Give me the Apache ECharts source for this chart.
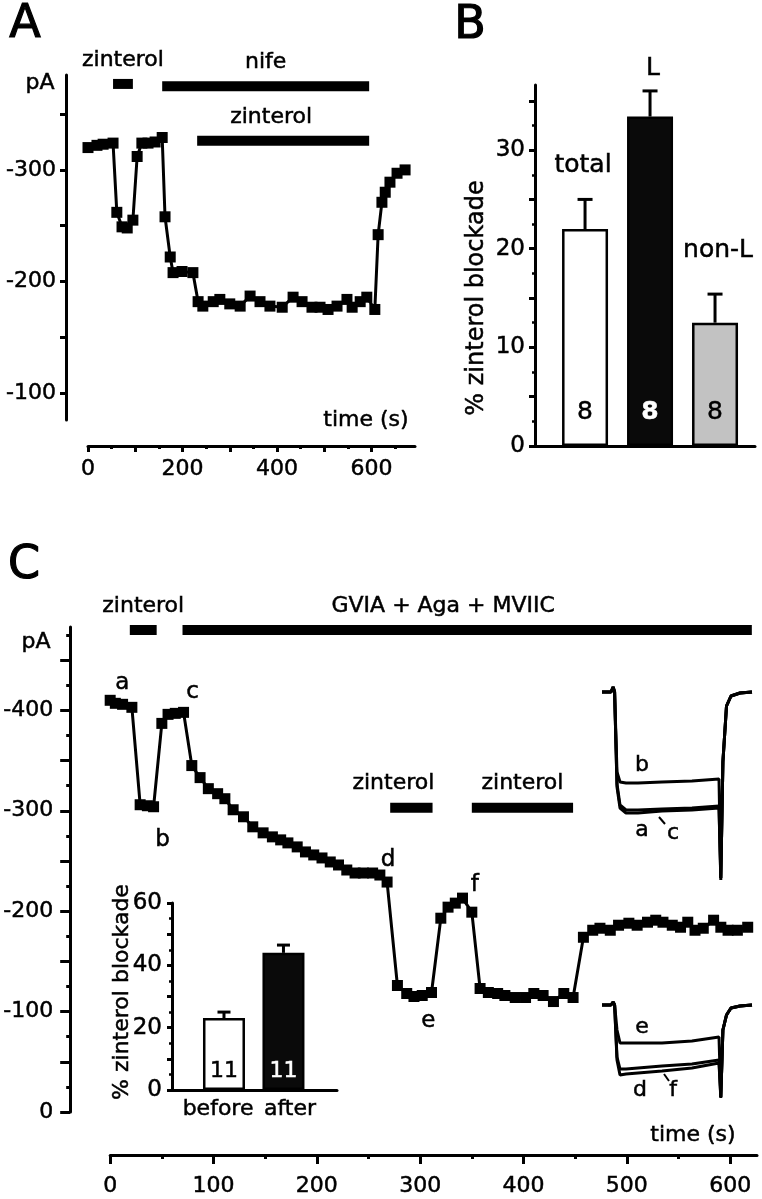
<!DOCTYPE html>
<html><head><meta charset="utf-8">
<script src="https://cdn.jsdelivr.net/npm/echarts@6/dist/echarts.min.js"></script>
<style>html,body{margin:0;padding:0;background:#fff}#c{width:762px;height:1199px}</style>
</head><body><div id="c"></div>
<script>
// ---------------- DATA ----------------
// Panel A: time course (s) and current (pA)
const aTime = [0,19,32,53,61,72,83,95,104,114,127,142,157,163,174,180,199,222,233,243,265,279,300,322,343,364,385,411,434,453,474,491,508,527,548,559,576,590,607,614,622,629,639,654,671];
const aCurrent = [-320,-322,-323,-324,-262,-249,-248,-255,-312,-324,-324,-325,-329,-258,-222,-208,-209,-208,-182,-178,-182,-184,-180,-178,-187,-182,-178,-177,-186,-182,-177,-177,-175,-178,-184,-177,-182,-186,-175,-242,-271,-280,-289,-297,-300];
const aBarLabels = ['zinterol','nife','zinterol'];
const aBarStart = [53,157,231];
const aBarEnd = [95,595,595];
const aXLabels = [0,200,400,600];
const aYLabels = [-300,-200,-100];

// Panel B
const bCategories = ['total','L','non-L'];
const bMeans = [22.0,33.4,12.5];
const bSEM = [3.0,2.6,2.9];
const bN = [8,8,8];
const bYLabels = [0,10,20,30];

// Panel C: time course
const cTime = [0,5,12,21,29,36,42,50,56,63,71,79,87,95,104,111,119,129,138,148,157,165,172,181,189,197,205,213,221,229,237,245,254,261,268,278,287,294,302,311,320,327,334,341,350,358,366,375,382,392,402,410,419,429,439,448,458,467,474,484,492,502,510,520,528,535,544,552,559,566,574,584,591,598,607,617];
const cCurrent = [-410,-407,-406,-403,-306,-305,-304,-387,-396,-397,-398,-345,-333,-322,-317,-312,-301,-294,-284,-278,-274,-271,-268,-264,-259,-256,-253,-249,-246,-241,-238,-238,-238,-236,-229,-126,-118,-115,-116,-119,-193,-204,-208,-213,-199,-123,-119,-118,-116,-114,-114,-118,-116,-110,-118,-114,-174,-181,-183,-181,-186,-188,-186,-189,-191,-189,-186,-184,-189,-181,-183,-191,-184,-181,-181,-184];
const cLetters = ['a','b','c','d','e','f'];
const cLetterIdx = [0,6,10,34,38,44];
const cBarLabels = ['zinterol','GVIA + Aga + MVIIC','zinterol','zinterol'];
const cBarStart = [19,70,271,350];
const cBarEnd = [45,621,312,448];
const cXLabels = [0,100,200,300,400,500,600];
const cYLabels = [-400,-300,-200,-100,0];

// Panel C inset bar chart
const icCategories = ['before','after'];
const icMeans = [23.1,44.0];
const icSEM = [1.9,2.5];
const icN = [11,11];
const icYLabels = [0,20,40,60];

// Panel C current traces (ms, pA relative to holding)
const insetTime = [0,3,3.7,4.2,5,6,8,12,20,30,39,39.6,40.3,41.5,43,46,50];
const traceA = [0,0,5,0,-95,-116,-121,-121,-119,-118,-116,-188,-70,-14,-4,-1,0];
const traceB = [0,0,5,0,-80,-90,-91,-91,-90,-89,-87,-186,-70,-14,-4,-1,0];
const traceC = [0,0,5,0,-92,-113,-118,-118,-117,-116,-114,-186,-70,-14,-4,-1,0];
const traceD = [0,0,3,0,-55,-70,-69,-68,-66,-63,-58,-93,-25,-10,-3,-1,0];
const traceE = [0,0,3,0,-25,-38,-38,-38,-38,-36,-32,-92,-25,-10,-3,-1,0];
const traceF = [0,0,3,0,-52,-64,-64,-63,-61,-59,-55,-92,-25,-10,-3,-1,0];

// ---------------- LAYOUT / STYLE ----------------
const FONT = 'DejaVu Sans';
const BLACK = '#000';
const TICKFS = 22;
const TB = 0.5; // slight text thickening
function ticksFrom(a, b, step) { const r = []; for (let v = a; v <= b + 1e-9; v += step) r.push(Math.round(v * 1000) / 1000); return r; }
function lab(o) { return Object.assign({color: BLACK, fontFamily: FONT, fontSize: TICKFS, textBorderColor: BLACK, textBorderWidth: TB}, o); }
function txt(text, size, extra) { return Object.assign({text: text, align: 'center', verticalAlign: 'middle', fontFamily: FONT, fontSize: size, fill: BLACK, stroke: BLACK, lineWidth: TB}, extra || {}); }
function axis(o) {
  return Object.assign({
    type: 'value', splitLine: {show: false},
    axisLine: {show: true, onZero: false, lineStyle: {color: BLACK, width: 3}},
    axisTick: {show: false},
    axisLabel: {show: false}
  }, o);
}
function tickAxis(o) {
  return Object.assign({type: 'value', splitLine: {show: false}, axisLine: {show: false, onZero: false}, axisLabel: {show: false}}, o);
}

const aBarLevel = [-377, -375, -326];
const aBarDx = [0, 0, -12];
const cBarLevel = [-480, -480, -303, -303];
const cBarDx = [0, -24, -18, 0];

function drugBars(labels, level, dx) {
  return function (params, api) {
    const i = api.value(2);
    const p0 = api.coord([api.value(0), level[i]]);
    const p1 = api.coord([api.value(1), level[i]]);
    return {type: 'group', children: [
      {type: 'rect', shape: {x: p0[0], y: p0[1] - 5, width: p1[0] - p0[0], height: 10}, style: {fill: BLACK}},
      {type: 'text', style: txt(labels[i], 22, {x: (p0[0] + p1[0]) / 2 + dx[i], y: p0[1] - 24})}
    ]};
  };
}

const bNameDy = [-64, -48, -72];
const bNameDx = [-2, 3, 3];
function errorBars(capW, names) {
  return function (params, api) {
    const i = api.value(3);
    const p0 = api.coord([api.value(0), api.value(1)]);
    const p1 = api.coord([api.value(0), api.value(1) + api.value(2)]);
    const ch = [
      {type: 'line', shape: {x1: p0[0], y1: p0[1], x2: p1[0], y2: p1[1]}, style: {stroke: BLACK, lineWidth: 3}},
      {type: 'line', shape: {x1: p1[0] - capW / 2, y1: p1[1], x2: p1[0] + capW / 2, y2: p1[1]}, style: {stroke: BLACK, lineWidth: 3}}
    ];
    if (names) ch.push({type: 'text', style: txt(names[i], 25, {x: p0[0] + bNameDx[i], y: p0[1] + bNameDy[i]})});
    return {type: 'group', children: ch};
  };
}

const bFill = ['#ffffff', '#0a0a0a', '#c2c2c2'];
const bNColor = [BLACK, '#ffffff', BLACK];
const icFill = ['#ffffff', '#0a0a0a'];
const icNColor = [BLACK, '#ffffff'];
const icLabelPos = [0.9, 2.11];

const cLetterOffset = [[12,-17],[9,33],[9,-20],[1,-22],[6,26],[3,-27]];

function traceSeries(x, y, vals, letter, idx, off) {
  return {
    type: 'line', xAxisIndex: x, yAxisIndex: y, symbol: 'none', silent: true,
    lineStyle: {color: BLACK, width: 3}, itemStyle: {color: BLACK},
    data: insetTime.map((t, i) => {
      const d = {value: [t, vals[i]]};
      if (i === idx) { d.symbol = 'circle'; d.symbolSize = 1; d.label = {show: true, position: 'inside', offset: off, formatter: letter, color: BLACK, textBorderColor: BLACK, textBorderWidth: TB, fontFamily: FONT, fontSize: 22}; }
      return d;
    })
  };
}

const option = {
  animation: false,
  backgroundColor: '#fff',
  textStyle: {fontFamily: FONT, color: BLACK},
  grid: [
    {left: 88, top: 75, width: 327, height: 345},   // A
    {left: 535, top: 85, width: 220, height: 361},  // B
    {left: 110, top: 627, width: 647, height: 485}, // C
    {left: 172, top: 903, width: 165, height: 187}, // C inset bars
    {left: 602, top: 680, width: 150, height: 202}, // traces top
    {left: 602, top: 995, width: 150, height: 105}  // traces bottom
  ],
  xAxis: [
    axis({gridIndex: 0, min: 0, max: 692, offset: 26, position: 'bottom',
      axisTick: {show: true, customValues: ticksFrom(0, 600, 100), length: 6, lineStyle: {color: BLACK, width: 3}},
      axisLabel: lab({show: true, customValues: aXLabels, margin: 12})}),
    tickAxis({gridIndex: 0, min: 0, max: 692, offset: 26, position: 'bottom',
      axisTick: {show: true, customValues: ticksFrom(50, 650, 100), length: 3, lineStyle: {color: BLACK, width: 3}}}),
    axis({gridIndex: 1, min: 0.23, max: 3.615, position: 'bottom'}),
    axis({gridIndex: 2, min: 0, max: 626, offset: 43, position: 'bottom',
      axisTick: {show: true, customValues: ticksFrom(0, 600, 100), length: 9, lineStyle: {color: BLACK, width: 3}},
      axisLabel: lab({show: true, customValues: cXLabels, margin: 20})}),
    tickAxis({gridIndex: 2, min: 0, max: 626, offset: 43, position: 'bottom',
      axisTick: {show: true, customValues: ticksFrom(50, 550, 100), length: 4, lineStyle: {color: BLACK, width: 3}}}),
    axis({gridIndex: 3, min: 0.126, max: 2.9, position: 'bottom',
      axisLabel: lab({show: true, customValues: icLabelPos, margin: 8, fontSize: 22, formatter: v => icCategories[Math.round(v) - 1]})}),
    {gridIndex: 4, type: 'value', min: 0, max: 50, show: false},
    {gridIndex: 5, type: 'value', min: 0, max: 50, show: false}
  ],
  yAxis: [
    axis({gridIndex: 0, min: -385, max: -76, inverse: true, offset: 22, position: 'left',
      axisTick: {show: true, customValues: ticksFrom(-350, -100, 50), length: 6, lineStyle: {color: BLACK, width: 3}},
      axisLabel: lab({show: true, customValues: aYLabels, margin: 10})}),
    axis({gridIndex: 1, min: 0, max: 36.6, position: 'left',
      axisTick: {show: true, customValues: ticksFrom(0, 35, 5), length: 6, lineStyle: {color: BLACK, width: 3}},
      axisLabel: lab({show: true, customValues: bYLabels, margin: 10, fontSize: 23})}),
    tickAxis({gridIndex: 1, min: 0, max: 36.6, position: 'left',
      axisTick: {show: true, customValues: ticksFrom(2.5, 32.5, 5), length: 3, lineStyle: {color: BLACK, width: 2.5}}}),
    axis({gridIndex: 2, min: -483, max: 0, inverse: true, offset: 40, position: 'left',
      axisTick: {show: true, customValues: ticksFrom(-450, 0, 50), length: 10, lineStyle: {color: BLACK, width: 3}},
      axisLabel: lab({show: true, customValues: cYLabels, margin: 17})}),
    tickAxis({gridIndex: 2, min: -483, max: 0, inverse: true, offset: 40, position: 'left',
      axisTick: {show: true, customValues: ticksFrom(-475, -25, 50), length: 4, lineStyle: {color: BLACK, width: 3}}}),
    axis({gridIndex: 3, min: 0, max: 60, position: 'left',
      axisTick: {show: true, customValues: ticksFrom(0, 60, 10), length: 5, lineStyle: {color: BLACK, width: 3}},
      axisLabel: lab({show: true, customValues: icYLabels, margin: 10, fontSize: 23})}),
    tickAxis({gridIndex: 3, min: 0, max: 60, position: 'left',
      axisTick: {show: true, customValues: ticksFrom(5, 55, 10), length: 3, lineStyle: {color: BLACK, width: 2.5}}}),
    {gridIndex: 4, type: 'value', min: -190, max: 12, show: false},
    {gridIndex: 5, type: 'value', min: -95, max: 10, show: false}
  ],
  series: [
    {type: 'line', xAxisIndex: 0, yAxisIndex: 0, symbol: 'rect', symbolSize: 11,
      lineStyle: {color: BLACK, width: 3}, itemStyle: {color: BLACK},
      data: aTime.map((t, i) => [t, aCurrent[i]])},
    {type: 'custom', xAxisIndex: 0, yAxisIndex: 0, renderItem: drugBars(aBarLabels, aBarLevel, aBarDx),
      data: aBarStart.map((s, i) => [s, aBarEnd[i], i])},
    {type: 'bar', xAxisIndex: 2, yAxisIndex: 1, barWidth: 46,
      data: bMeans.map((m, i) => ({value: [i + 1, m],
        itemStyle: {color: bFill[i], borderColor: BLACK, borderWidth: 2.5},
        label: {show: true, position: 'insideBottom', distance: 21, formatter: String(bN[i]), color: bNColor[i], textBorderColor: bNColor[i], textBorderWidth: TB, fontWeight: i === 1 ? 'bold' : 'normal', fontFamily: FONT, fontSize: 25}}))},
    {type: 'custom', xAxisIndex: 2, yAxisIndex: 1, renderItem: errorBars(15, bCategories),
      data: bMeans.map((m, i) => [i + 1, m, bSEM[i], i])},
    {type: 'line', xAxisIndex: 3, yAxisIndex: 3, symbol: 'rect', symbolSize: 11,
      lineStyle: {color: BLACK, width: 3}, itemStyle: {color: BLACK},
      data: cTime.map((t, i) => {
        const k = cLetterIdx.indexOf(i);
        const d = {value: [t, cCurrent[i]]};
        if (k >= 0) d.label = {show: true, position: 'inside', offset: cLetterOffset[k], formatter: cLetters[k], color: BLACK, textBorderColor: BLACK, textBorderWidth: TB, fontFamily: FONT, fontSize: 23};
        return d;
      })},
    {type: 'custom', xAxisIndex: 3, yAxisIndex: 3, renderItem: drugBars(cBarLabels, cBarLevel, cBarDx),
      data: cBarStart.map((s, i) => [s, cBarEnd[i], i])},
    {type: 'bar', xAxisIndex: 5, yAxisIndex: 5, barWidth: 42,
      data: icMeans.map((m, i) => ({value: [i + 1, m],
        itemStyle: {color: icFill[i], borderColor: BLACK, borderWidth: 2.5},
        label: {show: true, position: 'insideBottom', distance: 8, formatter: String(icN[i]), color: icNColor[i], textBorderColor: icNColor[i], textBorderWidth: TB, fontFamily: FONT, fontSize: 22}}))},
    {type: 'custom', xAxisIndex: 5, yAxisIndex: 5, renderItem: errorBars(13, null),
      data: icMeans.map((m, i) => [i + 1, m, icSEM[i], i])},
    traceSeries(6, 7, traceA, 'a', 7, [4, 17]),
    traceSeries(6, 7, traceC, 'c', 8, [11, 24]),
    traceSeries(6, 7, traceB, 'b', 7, [4, -18]),
    traceSeries(7, 8, traceD, 'd', 7, [2, 17]),
    traceSeries(7, 8, traceF, 'f', 8, [11, 24]),
    traceSeries(7, 8, traceE, 'e', 7, [4, -16])
  ],
  graphic: [
    {type: 'text', x: 25, y: 25, style: txt('A', 46, {lineWidth: 1.2})},
    {type: 'text', x: 470, y: 26, style: txt('B', 46, {lineWidth: 1.2})},
    {type: 'text', x: 24, y: 566, style: txt('C', 46, {lineWidth: 1.2})},
    {type: 'text', x: 40, y: 83, style: txt('pA', 22)},
    {type: 'text', x: 36, y: 642, style: txt('pA', 22)},
    {type: 'text', x: 366, y: 420, style: txt('time (s)', 22)},
    {type: 'text', x: 693, y: 1135, style: txt('time (s)', 22)},
    {type: 'text', x: 477, y: 298, rotation: Math.PI / 2, style: txt('% zinterol blockade', 24)},
    {type: 'text', x: 122, y: 992, rotation: Math.PI / 2, style: txt('% zinterol blockade', 22)},
    {type: 'line', shape: {x1: 659, y1: 817, x2: 665, y2: 824}, style: {stroke: BLACK, lineWidth: 2}},
    {type: 'line', shape: {x1: 664, y1: 1074, x2: 669, y2: 1081}, style: {stroke: BLACK, lineWidth: 2}}
  ]
};

const chart = echarts.init(document.getElementById('c'), null, {renderer: 'canvas', width: 762, height: 1199});
chart.setOption(option);
</script>
</body></html>
